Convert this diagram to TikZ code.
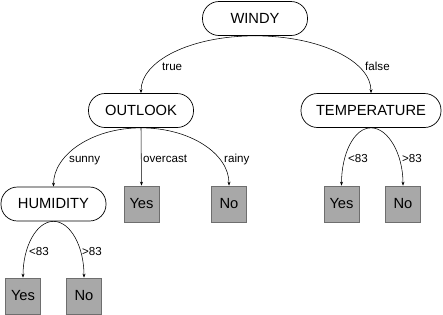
\documentclass[tikz,border=0pt]{standalone}
\usepackage{fontspec}
\setmainfont{Liberation Sans}
\usetikzlibrary{arrows.meta}
\definecolor{leafgray}{RGB}{168,168,168}
\definecolor{leafedge}{RGB}{110,110,110}

\begin{document}
\begin{tikzpicture}[x=1pt,y=-1pt,
  test/.style={draw,line width=0.7pt,rounded corners=16.5pt,minimum width=105pt,minimum height=34pt,inner xsep=15pt,font=\fontsize{14.7}{16}\selectfont},
  leaf/.style={draw=leafedge,fill=leafgray,line width=0.7pt,minimum width=35pt,minimum height=36pt,inner sep=0pt,font=\fontsize{14.7}{16}\selectfont},
  branch/.style={line width=0.55pt,-{Stealth[length=4pt,width=3pt]}},
  lbl/.style={anchor=base west,inner sep=0pt,font=\fontsize{11.6}{13}\selectfont}]
\useasboundingbox (0,0) rectangle (443,314);

% Tests
\node[test] (windy) at (255,18.5) {WINDY};
\node[test] (outlook) at (141,110.5) {OUTLOOK};
\node[test] (temp) at (371,110.5) {TEMPERATURE};
\node[test] (humid) at (53.5,204) {HUMIDITY};

% Leaves
\node[leaf] (yes1) at (141.5,204) {Yes};
\node[leaf] (no1) at (229,204) {No};
\node[leaf] (yes2) at (341.5,204) {Yes};
\node[leaf] (no2) at (403,204) {No};
\node[leaf] (yes3) at (23,296) {Yes};
\node[leaf] (no3) at (84,296) {No};

% Branches
\draw[branch] (windy.south) .. controls +(-65,0) and +(0,-32) .. (outlook.north);
\draw[branch] (windy.south) .. controls +(65,0) and +(0,-32) .. (temp.north);
\draw[branch] (outlook.south) .. controls +(-49,0) and +(0,-32) .. (humid.north);
\draw[branch] (outlook.south) -- (yes1.north);
\draw[branch] (outlook.south) .. controls +(49,0) and +(0,-32) .. (no1.north);
\draw[branch] (temp.south) .. controls +(-17,0) and +(0,-32) .. (yes2.north);
\draw[branch] (temp.south) .. controls +(17,0) and +(0,-32) .. (no2.north);
\draw[branch] (humid.south) .. controls +(-17,0) and +(0,-31) .. (yes3.north);
\draw[branch] (humid.south) .. controls +(17,0) and +(0,-31) .. (no3.north);

% Labels
\node[lbl] (ltrue) at (162,70) {true};
\node[lbl] (lfalse) at (365,70) {false};
\node[lbl] (lsunny) at (69,162) {sunny};
\node[lbl] (lover) at (143,162) {overcast};
\node[lbl] (lrainy) at (224,162) {rainy};
\node[lbl] (tlow) at (348,162.5) {<83};
\node[lbl] (thigh) at (402,162.5) {>83};
\node[lbl] (hlow) at (29,255) {<83};
\node[lbl] (hhigh) at (82,255) {>83};
\end{tikzpicture}
\end{document}
